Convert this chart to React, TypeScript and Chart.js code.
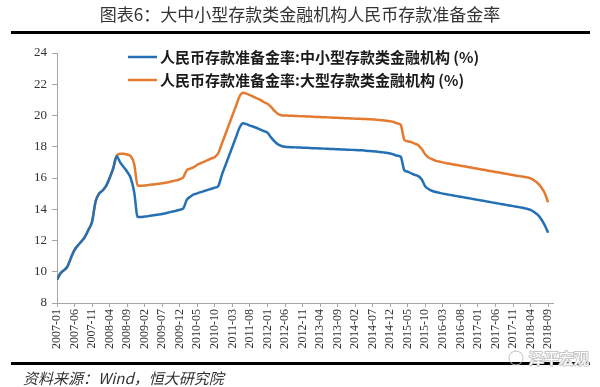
import { useEffect, useRef } from 'react';
import { Chart, registerables } from 'chart.js';

Chart.register(...registerables);

const TITLE = '图表6：大中小型存款类金融机构人民币存款准备金率';
const SOURCE = '资料来源：Wind，恒大研究院';
const WATERMARK = '泽平宏观';
const SERIES_NAMES = [
  '人民币存款准备金率:中小型存款类金融机构 (%)',
  '人民币存款准备金率:大型存款类金融机构 (%)',
];

// monthly categories 2007-01 .. 2018-09
const months: string[] = [];
for (let y = 2007; y <= 2018; y++) {
  for (let m = 1; m <= 12; m++) {
    if (y === 2018 && m > 9) break;
    months.push(`${y}-${m < 10 ? '0' + m : m}`);
  }
}
const tickMonths = months.filter((_, i) => i % 5 === 0);

// 中小型存款类金融机构
const smallMedium: number[] = [
  // 2007
  9.5, 9.9, 10.1, 10.35, 10.9, 11.4, 11.7, 11.95, 12.25, 12.7, 13.2, 14.5,
  // 2008
  15.0, 15.2, 15.5, 16.0, 16.6, 17.4, 17.0, 16.7, 16.4, 16.0, 15.1, 13.5,
  // 2009
  13.5, 13.53, 13.56, 13.6, 13.63, 13.67, 13.7, 13.75, 13.8, 13.85, 13.9, 13.97,
  // 2010
  14.05, 14.6, 14.8, 14.95, 15.02, 15.1, 15.17, 15.24, 15.31, 15.38, 15.5, 16.2,
  // 2011
  16.8, 17.4, 18.0, 18.6, 19.2, 19.5, 19.45, 19.35, 19.28, 19.2, 19.1, 19.0,
  // 2012
  18.9, 18.6, 18.35, 18.15, 18.05, 18.0, 17.98, 17.97, 17.96, 17.95, 17.94, 17.93,
  // 2013
  17.92, 17.91, 17.9, 17.89, 17.88, 17.87, 17.86, 17.85, 17.84, 17.83, 17.82, 17.81,
  // 2014
  17.8, 17.79, 17.78, 17.77, 17.75, 17.73, 17.71, 17.69, 17.67, 17.64, 17.61, 17.57,
  // 2015
  17.5, 17.43, 17.36, 16.5, 16.4, 16.3, 16.2, 16.12, 15.9, 15.45, 15.28, 15.17,
  // 2016
  15.1, 15.05, 15.0, 14.96, 14.92, 14.88, 14.84, 14.8, 14.76, 14.72, 14.68, 14.64,
  // 2017
  14.6, 14.56, 14.52, 14.48, 14.44, 14.4, 14.36, 14.32, 14.28, 14.24, 14.2, 14.16,
  // 2018
  14.12, 14.08, 14.03, 13.96, 13.83, 13.65, 13.38, 13.0, 12.5,
];

// 大型存款类金融机构
const large: number[] = [
  // 2007
  9.5, 9.9, 10.1, 10.35, 10.9, 11.4, 11.7, 11.95, 12.25, 12.7, 13.2, 14.5,
  // 2008
  15.0, 15.2, 15.5, 16.0, 16.6, 17.4, 17.55, 17.55, 17.5, 17.4, 16.9, 15.5,
  // 2009
  15.5, 15.52, 15.55, 15.58, 15.6, 15.63, 15.67, 15.7, 15.75, 15.8, 15.85, 15.92,
  // 2010
  16.05, 16.5, 16.6, 16.7, 16.85, 16.95, 17.05, 17.15, 17.25, 17.35, 17.6, 18.2,
  // 2011
  18.8, 19.4, 20.0, 20.6, 21.2, 21.45, 21.4, 21.3, 21.2, 21.1, 21.0, 20.85,
  // 2012
  20.75, 20.55, 20.3, 20.1, 20.02, 20.0, 19.99, 19.98, 19.97, 19.96, 19.95, 19.94,
  // 2013
  19.93, 19.92, 19.91, 19.9, 19.89, 19.88, 19.87, 19.86, 19.85, 19.84, 19.83, 19.82,
  // 2014
  19.81, 19.8, 19.79, 19.78, 19.77, 19.76, 19.75, 19.73, 19.71, 19.69, 19.66, 19.63,
  // 2015
  19.58, 19.5, 19.4, 18.45, 18.35, 18.3, 18.2, 18.1, 17.85, 17.5, 17.3, 17.2,
  // 2016
  17.1, 17.05, 17.0, 16.95, 16.91, 16.87, 16.83, 16.79, 16.75, 16.71, 16.67, 16.63,
  // 2017
  16.59, 16.55, 16.51, 16.47, 16.43, 16.39, 16.35, 16.31, 16.27, 16.23, 16.19, 16.15,
  // 2018
  16.12, 16.08, 16.04, 15.98, 15.85, 15.68, 15.42, 15.05, 14.45,
];

const yTicks = [8, 10, 12, 14, 16, 18, 20, 22, 24];

const BLUE = '#2470b3';
const ORANGE = '#e47a30';
const AXIS = '#a6a6a6';
const TEXT = '#333333';
const CJK = '"Noto Sans CJK SC", "Noto Sans", sans-serif';
const SERIF = '"Liberation Serif", "DejaVu Serif", serif';

const decor = {
  id: 'decor',
  beforeDraw(chart: any) {
    const ctx = chart.ctx;
    ctx.save();
    ctx.fillStyle = '#ffffff';
    ctx.fillRect(0, 0, chart.width, chart.height);
    ctx.restore();
  },
  afterDraw(chart: any) {
    const ctx = chart.ctx;
    ctx.save();
    // title
    ctx.fillStyle = TEXT;
    ctx.font = `17px ${CJK}`;
    ctx.textAlign = 'center';
    ctx.textBaseline = 'middle';
    ctx.fillText(TITLE, 300, 15);
    // rules
    ctx.fillStyle = '#000000';
    ctx.fillRect(11, 31, 579, 3);
    ctx.fillRect(11, 362, 579, 3);
    // source
    ctx.fillStyle = TEXT;
    ctx.font = `italic 15px ${CJK}`;
    ctx.textAlign = 'left';
    ctx.fillText(SOURCE, 23, 378);
    // watermark
    ctx.font = `15px ${CJK}`;
    ctx.lineWidth = 2;
    ctx.strokeStyle = '#c8c8c8';
    ctx.strokeText(WATERMARK, 529, 358);
    ctx.fillStyle = '#ffffff';
    ctx.fillText(WATERMARK, 529, 358);
    ctx.beginPath();
    ctx.strokeStyle = '#c0c0c0';
    ctx.lineWidth = 1;
    ctx.arc(516, 358, 7, 0, Math.PI * 2);
    ctx.stroke();
    // legend
    const colors = [BLUE, ORANGE];
    const ys = [57, 80];
    ctx.font = `bold 15px ${CJK}`;
    for (let i = 0; i < 2; i++) {
      ctx.strokeStyle = colors[i];
      ctx.lineWidth = 2.5;
      ctx.beginPath();
      ctx.moveTo(128, ys[i]);
      ctx.lineTo(157, ys[i]);
      ctx.stroke();
      ctx.fillStyle = '#1a1a1a';
      ctx.textAlign = 'left';
      ctx.textBaseline = 'middle';
      ctx.fillText(SERIES_NAMES[i], 160, ys[i]);
    }
    ctx.restore();
  },
};

export default function App() {
  const ref = useRef<HTMLCanvasElement | null>(null);
  useEffect(() => {
    const canvas = ref.current;
    if (!canvas) return;
    const chart = new Chart(canvas, {
      type: 'line',
      data: {
        datasets: [
          {
            label: SERIES_NAMES[0],
            data: smallMedium.map((v, i) => ({ x: i, y: v })),
            borderColor: BLUE,
            borderWidth: 2.5,
            pointRadius: 0,
            cubicInterpolationMode: 'monotone',
            fill: false,
          },
          {
            label: SERIES_NAMES[1],
            data: large.map((v, i) => ({ x: i, y: v })),
            borderColor: ORANGE,
            borderWidth: 2.5,
            pointRadius: 0,
            cubicInterpolationMode: 'monotone',
            fill: false,
          },
        ],
      },
      options: {
        responsive: false,
        animation: false,
        devicePixelRatio: 1,
        layout: { padding: { left: 0, right: 47, top: 53, bottom: 0 } },
        plugins: {
          legend: { display: false },
          tooltip: { enabled: false },
          title: { display: false },
        },
        scales: {
          x: {
            type: 'linear',
            min: 0,
            max: months.length - 1 + 1.4,
            afterBuildTicks: (s: any) => {
              s.ticks = tickMonths.map((t) => ({ value: months.indexOf(t) }));
            },
            afterFit: (s: any) => {
              s.height = 84;
            },
            ticks: {
              autoSkip: false,
              minRotation: 90,
              maxRotation: 90,
              padding: 2,
              color: TEXT,
              font: { family: SERIF, size: 12 },
              callback: (v: any) => months[Math.round(Number(v))] ?? '',
            },
            grid: { drawOnChartArea: false, drawTicks: true, tickLength: 4, color: AXIS },
            border: { display: true, color: AXIS, width: 1 },
          },
          y: {
            min: 8,
            max: 24,
            afterBuildTicks: (s: any) => {
              s.ticks = yTicks.map((v) => ({ value: v }));
            },
            afterFit: (s: any) => {
              s.width = 57;
            },
            ticks: {
              padding: 5,
              color: TEXT,
              font: { family: SERIF, size: 13 },
              callback: (v: any) => String(v),
            },
            grid: { drawOnChartArea: false, drawTicks: true, tickLength: 5, color: AXIS },
            border: { display: true, color: AXIS, width: 1 },
          },
        },
      },
      plugins: [decor],
    } as any);
    return () => chart.destroy();
  }, []);
  return (
    <div style={{ position: 'fixed', left: 0, top: 0, width: 600, height: 387, background: '#fff' }}>
      <canvas ref={ref} width={600} height={387} style={{ display: 'block', width: 600, height: 387 }} />
    </div>
  );
}
